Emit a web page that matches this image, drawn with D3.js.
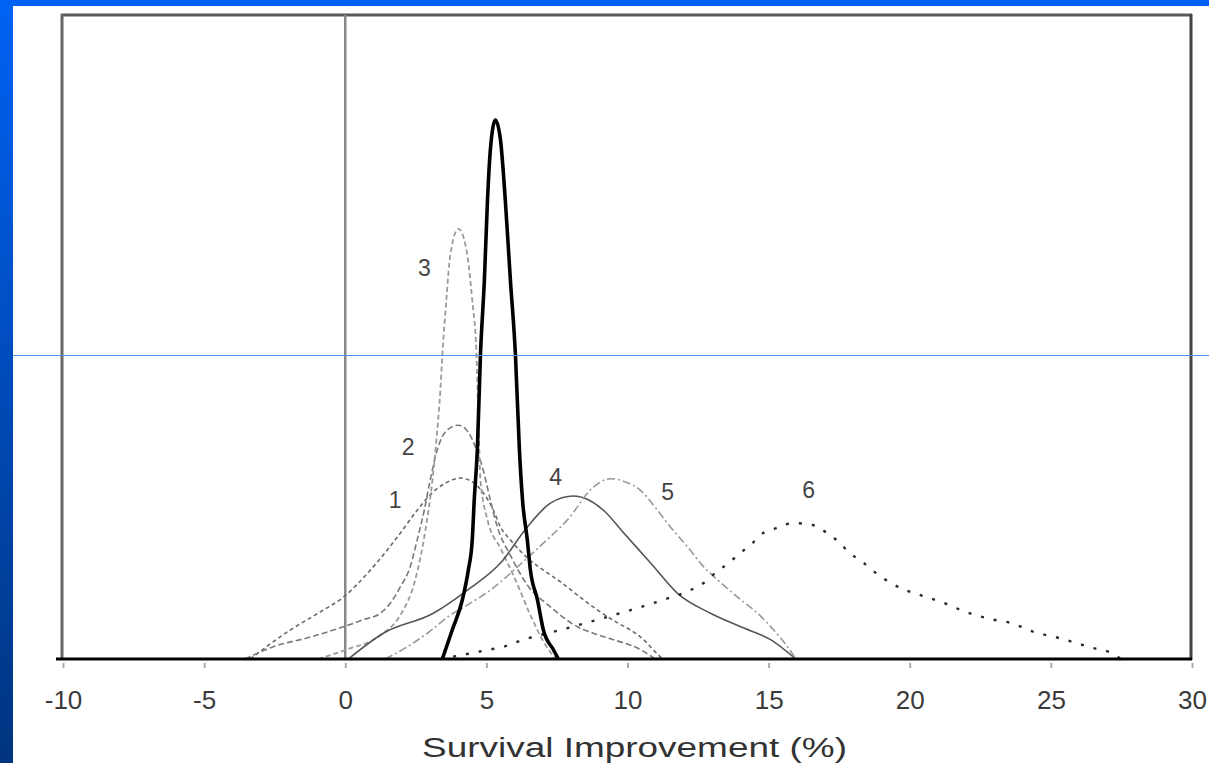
<!DOCTYPE html>
<html>
<head>
<meta charset="utf-8">
<script src="https://cdn.jsdelivr.net/npm/d3@7"></script>
<style>
  body { margin: 0; overflow: hidden; }
  text { font-family: "Liberation Sans", Arial, sans-serif; }
</style>
</head>
<body>
<div id="chart"></div>
<script>
// values, x = survival improvement (%), y = relative density
const xTicks = [-10, -5, 0, 5, 10, 15, 20, 25, 30];
const axisTitle = "Survival Improvement (%)";

const c1x = [-3.37,-1.95,-0.89,-0.07,0.89,1.77,2.55,3.01,3.55,4.08,4.50,4.89,5.25,5.50,5.85,6.45,7.02,7.62,8.44,8.94,9.65,10.11,10.57,10.92,11.24];
const c1y = [0,4.5,7.3,9.6,13.8,18.5,23.1,25.5,27.3,28.1,27.5,25.8,23.1,20.5,18.5,15.7,13.8,12.0,9.2,7.6,5.6,4.5,3.0,1.4,0];

const c2x = [-3.55,-2.55,-1.24,-0.07,0.64,1.24,1.60,1.95,2.30,2.55,2.80,3.01,3.26,3.62,4.01,4.36,4.65,4.89,5.14,5.39,5.85,6.45,7.27,8.23,8.79,9.50,10.35,10.99];
const c2y = [0,1.9,3.4,5.0,6.1,7.1,8.7,11.2,14.3,18.5,23.1,27.8,32.5,35.6,36.3,35.2,32.5,29.3,24.7,20.5,16.1,11.5,8.1,5.0,4.0,3.0,1.7,0];

const c3x = [-0.96,0,1.24,1.95,2.48,2.84,3.09,3.23,3.37,3.44,3.58,3.72,4.01,4.26,4.50,4.65,4.72,4.79,5.04,5.50,6.03,6.56,7.09,7.45];
const c3y = [0,1.4,3.7,6.8,12.3,20.0,27.8,34.0,41.8,47.2,55.7,62.7,66.8,64.3,55.7,47.2,37.1,27.8,21.6,17.2,12.3,6.8,2.2,0];

const c4x = [0.11,1.35,3.12,4.33,5.50,6.45,7.27,8.09,9.15,9.86,10.82,11.77,12.94,14.01,15.07,15.96];
const c4y = [0,4.0,7.1,10.7,14.9,20.5,24.2,25.3,23.1,19.6,14.9,10.2,7.1,5.0,3.0,0];

const c5x = [1.42,2.20,2.91,3.72,4.33,5.14,6.10,7.02,7.87,8.79,9.40,9.93,10.46,11.06,11.52,12.13,12.70,13.19,13.90,14.61,15.18,15.67,15.96];
const c5y = [0,1.9,4.0,6.8,8.4,10.7,14.3,18.0,21.6,26.7,28.0,27.5,26.2,23.1,20.5,17.4,14.3,12.3,9.6,7.1,4.5,1.9,0];

const c6x = [3.37,5.04,5.60,6.31,7.62,8.94,10.11,11.28,12.23,12.70,13.12,13.58,14.01,14.43,14.82,15.25,15.89,16.56,17.02,17.48,17.84,18.37,18.79,19.33,19.86,20.67,21.21,21.81,22.34,22.98,23.58,24.40,25.25,25.89,26.49,27.06,27.48];
const c6y = [0,1.4,1.9,3.0,4.5,6.1,7.6,9.2,10.7,11.8,13.4,14.9,16.5,18.0,19.6,20.3,21.1,20.8,19.7,18.2,16.6,14.9,13.4,11.8,10.7,9.5,8.7,7.6,6.8,6.1,5.6,4.2,3.3,2.5,1.7,1.1,0];

// combined (thick black)
const cAllx = [3.44,3.79,4.15,4.36,4.50,4.57,4.68,4.79,4.93,5.04,5.14,5.32,5.50,5.67,5.85,6.03,6.17,6.28,6.45,6.56,6.81,7.02,7.38,7.55];
const cAlly = [0,4.5,9.2,13.8,18.5,24.7,32.5,47.2,58.9,71.3,79.0,83.7,80.6,71.3,58.9,47.2,32.5,24.7,18.5,13.8,9.2,4.5,1.4,0];

const labelText = ["1", "2", "3", "4", "5", "6"];
const labelX = [1.77, 2.23, 2.80, 7.45, 11.42, 16.42];
const labelY = [24.7, 32.9, 60.7, 28.3, 25.9, 26.2];

const width = 1209, height = 763;
const svg = d3.select("#chart").append("svg")
    .attr("width", width)
    .attr("height", height);

// slide background
const grad = svg.append("defs").append("linearGradient")
    .attr("id", "bg").attr("x1", 0).attr("y1", 0).attr("x2", 0).attr("y2", 1);
grad.append("stop").attr("offset", "0%").attr("stop-color", "#0062f4");
grad.append("stop").attr("offset", "100%").attr("stop-color", "#00347f");
svg.append("rect").attr("width", width).attr("height", height).attr("fill", "url(#bg)");
svg.append("rect").attr("x", 13).attr("y", 6).attr("width", width - 13).attr("height", height - 6).attr("fill", "#fff");

const x = d3.scaleLinear().domain([-10, 30]).range([63, 1192]);
const y = d3.scaleLinear().domain([0, 100]).range([659, 15]);

// frame
const frame = svg.append("g");
frame.append("line").attr("x1", 61).attr("x2", 1192).attr("y1", 15).attr("y2", 15)
    .attr("stroke", "#5a5a5a").attr("stroke-width", 3);
frame.append("line").attr("x1", 62).attr("x2", 62).attr("y1", 14).attr("y2", 659)
    .attr("stroke", "#666").attr("stroke-width", 3);
frame.append("line").attr("x1", 1191).attr("x2", 1191).attr("y1", 14).attr("y2", 660)
    .attr("stroke", "#444").attr("stroke-width", 3);
frame.append("line").attr("x1", x(0)).attr("x2", x(0)).attr("y1", 15).attr("y2", 659)
    .attr("stroke", "#888").attr("stroke-width", 2.5);

// x axis
const xAxis = d3.axisBottom(x).tickValues(xTicks).tickSize(0).tickPadding(0).tickFormat(d => String(d));
const ax = svg.append("g").attr("transform", `translate(0, 659)`).call(xAxis);
ax.select(".domain").remove();
ax.selectAll(".tick line").attr("y1", 4).attr("y2", 9).attr("stroke", "#aaa").attr("stroke-width", 2);
ax.selectAll(".tick text").attr("y", 50).attr("dy", 0)
    .attr("font-size", 26).attr("fill", "#3a3a3a")
    .style("font-family", "'Liberation Sans', Arial, sans-serif");

svg.append("text")
    .attr("x", 422).attr("y", 757)
    .attr("textLength", 425).attr("lengthAdjust", "spacingAndGlyphs")
    .attr("font-size", 27).attr("fill", "#333")
    .text(axisTitle);

// curves
const line = d3.line().x(d => x(d[0])).y(d => y(d[1])).curve(d3.curveMonotoneX);
const curves = [
  { xs: c1x, ys: c1y, color: "#6a6a6a", w: 1.6, dash: "4,3" },
  { xs: c2x, ys: c2y, color: "#7a7a7a", w: 1.6, dash: "6,3" },
  { xs: c3x, ys: c3y, color: "#9a9a9a", w: 1.8, dash: "5,3" },
  { xs: c4x, ys: c4y, color: "#555", w: 1.6, dash: null },
  { xs: c5x, ys: c5y, color: "#999", w: 1.6, dash: "8,3,2,3" },
  { xs: c6x, ys: c6y, color: "#2a2a2a", w: 2.4, dash: "3,10" },
  { xs: cAllx, ys: cAlly, color: "#000", w: 3.6, dash: null }
];
svg.append("g").selectAll("path")
    .data(curves)
    .enter().append("path")
    .attr("d", c => line(c.xs.map((v, i) => [v, c.ys[i]])))
    .attr("fill", "none")
    .attr("stroke", c => c.color)
    .attr("stroke-width", c => c.w)
    .attr("stroke-dasharray", c => c.dash);

// bottom axis line (drawn over curve ends)
svg.append("line").attr("x1", 56).attr("x2", 1192).attr("y1", 659).attr("y2", 659)
    .attr("stroke", "#000").attr("stroke-width", 3);

svg.append("g").selectAll("text")
    .data(labelText)
    .enter().append("text")
    .attr("x", (d, i) => x(labelX[i]))
    .attr("y", (d, i) => y(labelY[i]))
    .attr("dy", "0.35em")
    .attr("text-anchor", "middle")
    .attr("font-size", 23).attr("fill", "#444")
    .text(d => d);

// thin blue guide line across the slide
svg.append("line").attr("x1", 13).attr("x2", width).attr("y1", 355.5).attr("y2", 355.5)
    .attr("stroke", "#4f8af0").attr("stroke-width", 1);
</script>
</body>
</html>
